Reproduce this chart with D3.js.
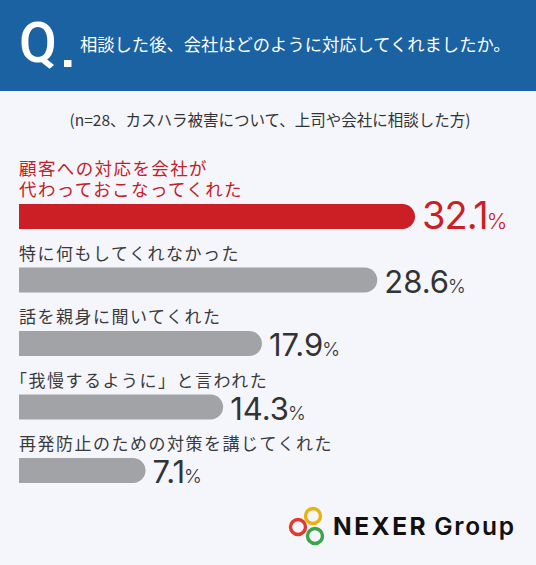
<!DOCTYPE html>
<html>
<head>
<meta charset="utf-8">
<script src="https://cdn.jsdelivr.net/npm/d3@7"></script>
<style>
  html, body { margin: 0; padding: 0; background: #f5f6fb; }
  svg { display: block; }
</style>
</head>
<body>
<div id="chart"></div>
<script>
(function () {
    'use strict';

    // question header
    var question = '相談した後、会社はどのように対応してくれましたか。',
        note = '(n=28、カスハラ被害について、上司や会社に相談した方)';

    // answers, top to bottom
    var categories = [
        ['顧客への対応を会社が', '代わっておこなってくれた'],
        ['特に何もしてくれなかった'],
        ['話を親身に聞いてくれた'],
        ['「我慢するように」と言われた'],
        ['再発防止のための対策を講じてくれた']
    ];
    var values = [32.1, 28.6, 17.9, 14.3, 7.1];
    var valueLabels = ['32.1', '28.6', '17.9', '14.3', '7.1'];

    var W = 536, H = 565,
        left = 19,
        barH = 25,
        red = '#cb1f25',
        grey = '#a2a3a7',
        ink = '#333335',
        jp = '"Noto Sans CJK JP", "Noto Sans", sans-serif',
        num = 'Inter, Roboto, sans-serif';

    var svg = d3.select('#chart').append('svg')
        .attr('width', W)
        .attr('height', H);

    svg.append('rect')
        .attr('width', W).attr('height', H)
        .attr('fill', '#f5f6fb');

    // header band
    var head = svg.append('g').attr('class', 'head');
    head.append('rect')
        .attr('width', W).attr('height', 91)
        .attr('fill', '#1b62a3');
    head.append('text')
        .attr('x', 19).attr('y', 62)
        .attr('fill', '#fff')
        .style('font-family', 'Roboto, sans-serif')
        .style('font-weight', 500)
        .style('font-size', '55px')
        .text('Q');
    head.append('rect')
        .attr('x', 64).attr('y', 60)
        .attr('width', 7.5).attr('height', 7)
        .attr('fill', '#fff');
    head.append('text')
        .attr('x', 80).attr('y', 51)
        .attr('fill', '#fff')
        .style('font-family', jp)
        .style('font-size', '17.3px')
        .text(question);

    svg.append('text')
        .attr('x', 270).attr('y', 126)
        .attr('text-anchor', 'middle')
        .attr('fill', ink)
        .style('font-family', jp)
        .style('font-size', '15.5px')
        .text(note);

    // scales
    var y = d3.scalePoint()
        .domain(d3.range(values.length))
        .range([204, 458]);

    var x = d3.scaleLinear()
        .domain([0, d3.max(values)])
        .range([left + 50, left + 396]);

    function barPath(x0, y0, x1, h) {
        var r = h / 2,
            p = d3.path();
        p.moveTo(x0, y0);
        p.lineTo(x1 - r, y0);
        p.arc(x1 - r, y0 + r, r, -Math.PI / 2, Math.PI / 2);
        p.lineTo(x0, y0 + h);
        p.closePath();
        return p.toString();
    }

    var rows = svg.append('g').attr('class', 'rows')
        .selectAll('g')
        .data(values)
        .join('g')
        .attr('transform', function (d, i) { return 'translate(0,' + y(i) + ')'; });

    rows.append('path')
        .attr('d', function (d) { return barPath(left, 0, x(d), barH); })
        .attr('fill', function (d, i) { return i === 0 ? red : grey; });

    // answer labels above the bars (one text per line)
    rows.each(function (d, i) {
        var g = d3.select(this),
            lines = categories[i];
        lines.forEach(function (line, k) {
            g.append('text')
                .attr('x', line.charAt(0) === '「' ? left - 9 : left)
                .attr('y', -8 - (lines.length - 1 - k) * 21)
                .attr('fill', i === 0 ? '#c42027' : '#3a3a3c')
                .style('font-family', jp)
                .style('font-size', i === 0 ? '17.5px' : '17px')
                .style('letter-spacing', i === 0 ? '1.4px' : '1.5px')
                .text(line);
        });
    });

    // value labels
    var vt = rows.append('text')
        .attr('x', function (d) { return x(d) + 7; })
        .attr('y', barH)
        .attr('fill', function (d, i) { return i === 0 ? red : ink; })
        .style('font-family', num)
        .style('font-weight', 400);

    vt.append('tspan')
        .style('font-size', function (d, i) { return i === 0 ? '38px' : '31px'; })
        .style('letter-spacing', function (d, i) { return i === 0 ? '-1px' : '0px'; })
        .text(function (d, i) { return valueLabels[i]; });

    vt.append('tspan')
        .attr('dx', -1)
        .style('font-size', function (d, i) { return i === 0 ? '22px' : '19px'; })
        .style('font-weight', 300)
        .text('%');

    // logo
    var logo = svg.append('g').attr('class', 'logo');
    [['#e9b213', 313, 516], ['#e0392d', 298, 527], ['#3ba447', 315, 536]].forEach(function (c) {
        logo.append('circle')
            .attr('cx', c[1]).attr('cy', c[2])
            .attr('r', 7.5)
            .attr('fill', 'none')
            .attr('stroke', c[0])
            .attr('stroke-width', 3.4);
    });
    var lt = logo.append('text')
        .attr('x', 333).attr('y', 535)
        .attr('fill', '#111')
        .style('font-family', 'Inter, sans-serif')
        .style('font-size', '24.5px');
    lt.append('tspan')
        .style('font-weight', 700)
        .style('letter-spacing', '2.5px')
        .text('NEXER');
    lt.append('tspan')
        .attr('dx', 6)
        .style('font-weight', 600)
        .style('letter-spacing', '1.8px')
        .text('Group');
})();
</script>
</body>
</html>
